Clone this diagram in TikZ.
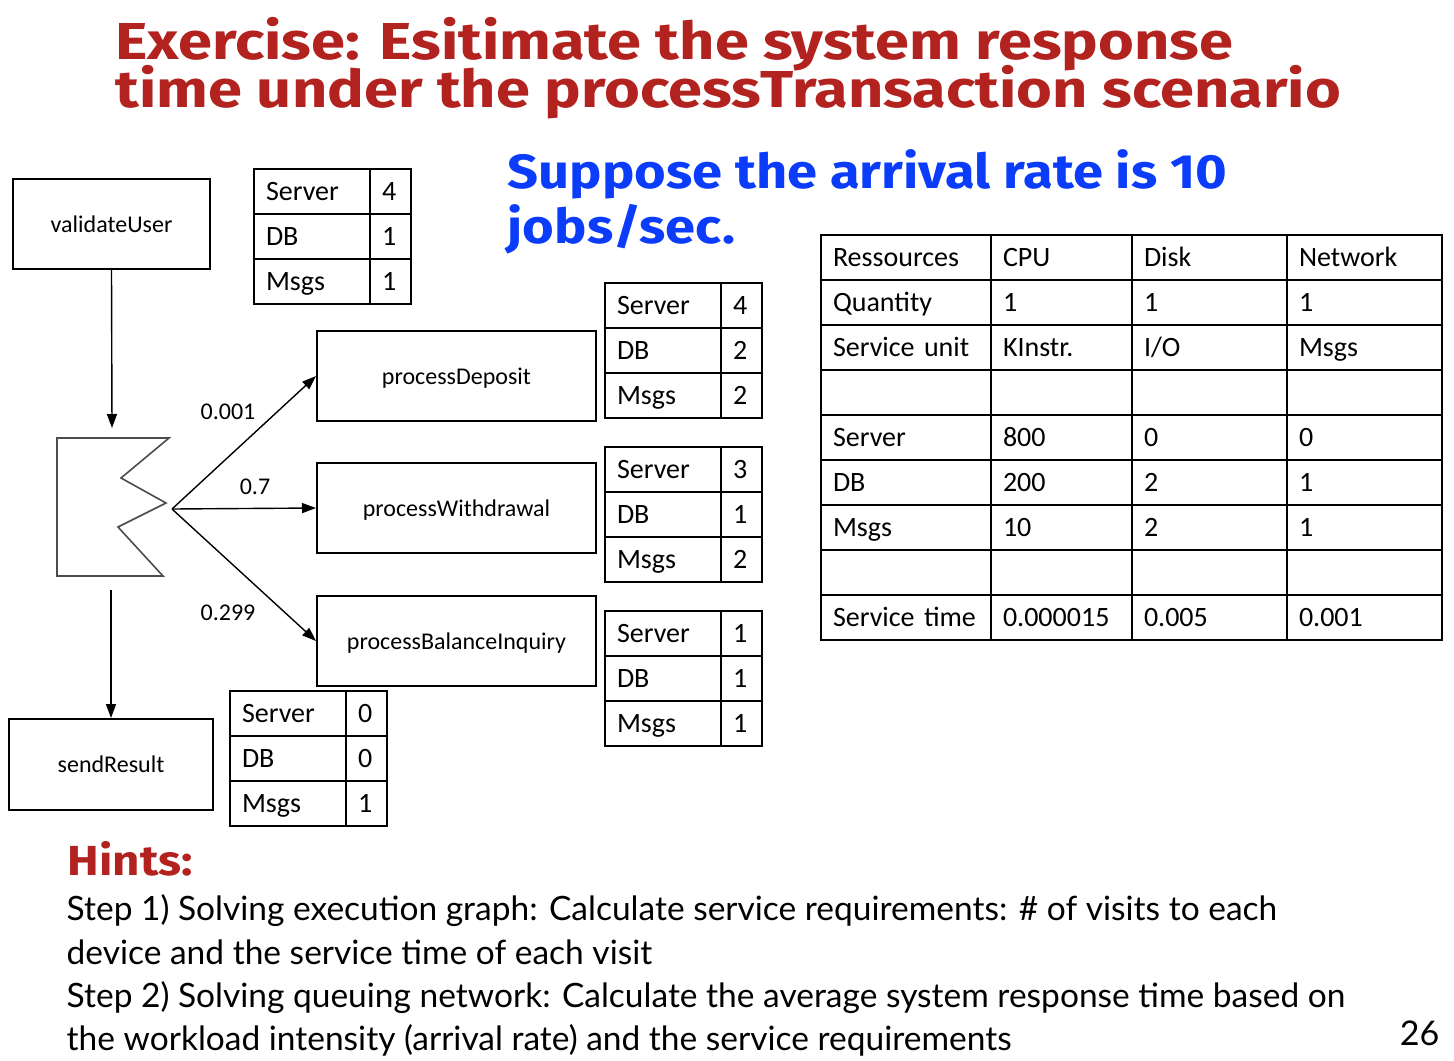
\documentclass[tikz,border=0pt]{standalone}
\usepackage{fontspec}
\setmainfont{Carlito}
\newfontfamily\titlefont{Fira Sans}[FakeStretch=1.13]
\newfontfamily\headfont{Fira Sans}[FakeStretch=1.18]
\newfontfamily\hintfont{Lato}
\usetikzlibrary{arrows.meta,positioning}
\definecolor{slidered}{RGB}{178,34,30}
\definecolor{slideblue}{RGB}{10,60,250}
\tikzset{>={Triangle[length=7pt,width=5pt]},node distance=2cm}
\tikzset{
  activity/.style={draw,line width=1pt,minimum width=139.5pt,minimum height=45pt,inner sep=0pt,
    text height=9pt,text depth=1pt,font=\fontsize{12}{14}\selectfont},
  cell/.style={draw,line width=1pt,anchor=north west,outer sep=0pt,inner xsep=6pt,inner ysep=0pt,
    minimum height=22.5pt,text height=11pt,text depth=2pt,align=left,font=\fontsize{14}{16}\selectfont},
  prob/.style={inner sep=0pt,font=\fontsize{12}{14}\selectfont},
  heading/.style={inner sep=0pt,anchor=base west,font=\headfont\bfseries\fontsize{26}{27}\selectfont,text=slidered},
  hint/.style={inner sep=0pt,anchor=base west,font=\hintfont\fontsize{16.75}{18}\selectfont}
}
% Server / DB / Msgs demands of one step
\newcommand{\demandtable}[5]{%
  \begin{scope}[shift={#2}]
  \foreach \lab/\val [count=\r] in {Server/#3,DB/#4,Msgs/#5}{
    \node[cell,text width=46pt] (#1-\r) at (0,{(\r-1)*45}) {\lab};
    \node[cell,text width=8.5pt] (#1-\r-n) at (116,{(\r-1)*45}) {\val};
  }
  \end{scope}}

\begin{document}
\begin{tikzpicture}[x=0.5pt,y=-0.5pt,line width=0.7pt]
\useasboundingbox (0,0) rectangle (1454,1060);

\node[heading] (title1) at (115,59) {Exercise: Esitimate the system response};
\node[heading] (title2) at (115,107) {time under the processTransaction scenario};
\node[heading,text=slideblue,font=\titlefont\bfseries\fontsize{24}{26}\selectfont] (rate1) at (507,188) {Suppose the arrival rate is 10};
\node[heading,text=slideblue,font=\titlefont\bfseries\fontsize{24}{26}\selectfont] (rate2) at (507,243) {jobs/sec.};

% execution graph
\node[activity,minimum width=98.5pt] (validate) at (111.5,224) {validateUser};
\node[activity,minimum width=102pt,minimum height=45.5pt] (send) at (111,764.5) {sendResult};
\node[activity] (deposit) at (456.5,376) {processDeposit};
\node[activity,below=20pt of deposit] (withdraw) {processWithdrawal};
\node[activity,below=20.5pt of withdraw] (balance) {processBalanceInquiry};

\draw[black!70,line width=0.8pt] (57,438) -- (169,438) -- (121,478) -- (166,503)
  -- (118,527) -- (163,576) -- (57,576) -- cycle;
\coordinate (branchin) at (112,428);
\coordinate (branchout) at (172,509);
\coordinate (branchend) at (111,590);

\draw[->] (validate.south) -- (branchin);
\draw[->] (branchend) -- (send.north);
\draw[->] (branchout) -- (deposit.west);
\draw[->] (branchout) -- (withdraw.west);
\draw[->] (branchout) -- (balance.west);

\node[prob] (p1) at (228,412) {0.001};
\node[prob] (p2) at (255,487) {0.7};
\node[prob] (p3) at (228,613) {0.299};

\demandtable{dv}{(254,169)}{4}{1}{1}
\demandtable{dd}{(605,283)}{4}{2}{2}
\demandtable{dw}{(605,447)}{3}{1}{2}
\demandtable{db}{(605,611)}{1}{1}{1}
\demandtable{ds}{(230,691)}{0}{0}{1}

% resources
\foreach \a/\b/\c/\d [count=\r] in {Ressources/CPU/Disk/Network,Quantity/1/1/1,
    Service unit/KInstr./{I/O}/Msgs,{}/{}/{}/{},Server/800/0/0,DB/200/2/1,
    Msgs/10/2/1,{}/{}/{}/{},Service time/0.000015/0.005/0.001}{
  \node[cell,text width=73pt] (res-\r-1) at (821,{235+(\r-1)*45}) {\a};
  \node[cell,text width=58.5pt] (res-\r-2) at (991,{235+(\r-1)*45}) {\b};
  \node[cell,text width=65.5pt] (res-\r-3) at (1132,{235+(\r-1)*45}) {\c};
  \node[cell,text width=65.5pt] (res-\r-4) at (1287,{235+(\r-1)*45}) {\d};
}

% hints
\node[heading,font=\titlefont\bfseries\fontsize{21}{22}\selectfont] (hints) at (67,875) {Hints:};
\node[hint] (step1a) at (66,920) {Step 1) Solving execution graph: Calculate service requirements: \# of visits to each};
\node[hint] (step1b) at (66,964) {device and the service time of each visit};
\node[hint] (step2a) at (66,1007) {Step 2) Solving queuing network: Calculate the average system response time based on};
\node[hint] (step2b) at (66,1050) {the workload intensity (arrival rate) and the service requirements};
\node[hint,anchor=base east,font=\hintfont\fontsize{17}{18}\selectfont] (page) at (1440,1045) {26};
\end{tikzpicture}
\end{document}
